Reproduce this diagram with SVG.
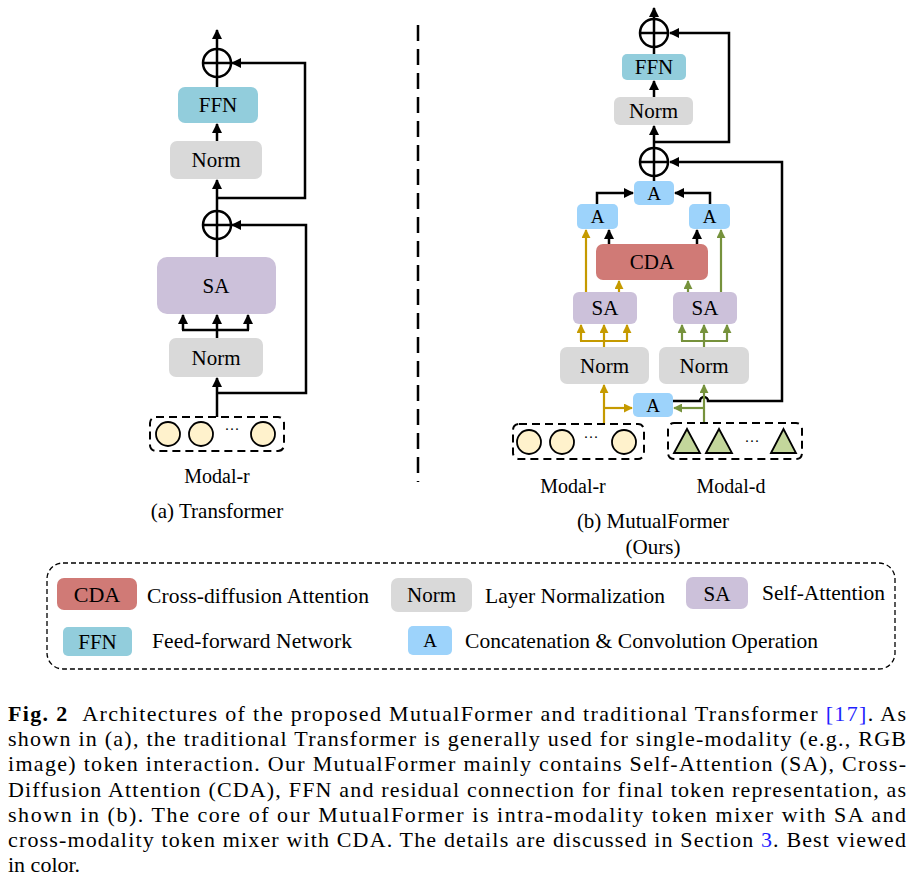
<svg xmlns="http://www.w3.org/2000/svg" width="915" height="880" viewBox="0 0 915 880">
<defs>
<marker id="ak" viewBox="0 0 10 10" refX="9" refY="5" markerWidth="10" markerHeight="10" markerUnits="userSpaceOnUse" orient="auto"><path d="M0,0 L10,5 L0,10 z" fill="#000"/></marker>
<marker id="ag" viewBox="0 0 10 10" refX="9" refY="5" markerWidth="9" markerHeight="9" markerUnits="userSpaceOnUse" orient="auto"><path d="M0,0 L10,5 L0,10 z" fill="#c59a00"/></marker>
<marker id="av" viewBox="0 0 10 10" refX="9" refY="5" markerWidth="9" markerHeight="9" markerUnits="userSpaceOnUse" orient="auto"><path d="M0,0 L10,5 L0,10 z" fill="#76923c"/></marker>
</defs>
<style>
text{font-family:"Liberation Serif","Times New Roman",serif;fill:#000}
.lbl{font-size:21px;text-anchor:middle}
.al{font-size:19px;text-anchor:middle}
.leg{font-size:21.5px}
.cap{font-size:22px}
.k{fill:none;stroke:#000;stroke-width:2.5}
.ka{fill:none;stroke:#000;stroke-width:2.5;marker-end:url(#ak)}
.g{fill:none;stroke:#c59a00;stroke-width:2.2}
.ga{fill:none;stroke:#c59a00;stroke-width:2.2;marker-end:url(#ag)}
.v{fill:none;stroke:#76923c;stroke-width:2.2}
.va{fill:none;stroke:#76923c;stroke-width:2.2;marker-end:url(#av)}
.ffn{fill:#92cddc}
.norm{fill:#d9d9d9}
.sa{fill:#ccc1da}
.cda{fill:#d07a76}
.a{fill:#9dd3fb}
.tok{fill:#fff2cc;stroke:#000;stroke-width:1.8}
.tri{fill:#c3d69b;stroke:#000;stroke-width:1.8;stroke-linejoin:miter}
.dash{fill:none;stroke:#000;stroke-width:2;stroke-dasharray:8 5}
.plus{fill:#fff;stroke:#000;stroke-width:2.5}
.dots{font-size:15px;text-anchor:middle}
</style>
<rect width="915" height="880" fill="#fff"/>

<!-- separator -->
<line x1="418" y1="25" x2="418" y2="482" stroke="#000" stroke-width="2.5" stroke-dasharray="16 8"/>

<g id="connectors">
  <!-- left (a) -->
  <path class="ka" d="M217,49 V30"/>
  <path class="k" d="M217,87 V77"/>
  <path class="ka" d="M217,198 H305 V63 H232"/>
  <path class="ka" d="M217,141 V124"/>
  <path class="ka" d="M217,211 V180"/>
  <path class="k" d="M217,257 V239"/>
  <path class="ka" d="M217,393 H306 V225 H232"/>
  <path class="k" d="M217,338 V330 M182,330 H249"/>
  <path class="ka" d="M183,330 V315"/>
  <path class="ka" d="M217,330 V315"/>
  <path class="ka" d="M248,330 V315"/>
  <path class="ka" d="M217,417 V378"/>
  <!-- right (b) black -->
  <path class="ka" d="M654,19 V8"/>
  <path class="k" d="M654,54 V47"/>
  <path class="ka" d="M654,97 V81"/>
  <path class="ka" d="M654,148 V126"/>
  <path class="ka" d="M654,142 H729 V33 H670"/>
  <path class="k" d="M654,181 V176"/>
  <path class="ka" d="M673,401 H700 A4,4 0 0 1 708,401 H782 V162 H670"/>
  <path class="ka" d="M597,204 V193 H633"/>
  <path class="ka" d="M710,204 V193 H675"/>
  <path class="ka" d="M609,244 V230"/>
  <path class="ka" d="M697,244 V230"/>
  <!-- gold -->
  <path class="ga" d="M586,292 V230"/>
  <path class="ga" d="M619,292 V281"/>
  <path class="g" d="M604,347 V341 M580,341 H628"/>
  <path class="ga" d="M581,341 V325"/>
  <path class="ga" d="M604,341 V325"/>
  <path class="ga" d="M627,341 V325"/>
  <path class="ga" d="M604,424 V385"/>
  <path class="ga" d="M604,408 H632"/>
  <!-- green -->
  <path class="va" d="M721,292 V230"/>
  <path class="va" d="M688,292 V281"/>
  <path class="v" d="M704,347 V341 M681,341 H728"/>
  <path class="va" d="M682,341 V325"/>
  <path class="va" d="M704,341 V325"/>
  <path class="va" d="M727,341 V325"/>
  <path class="va" d="M704,423 V385"/>
  <path class="va" d="M704,408 H674"/>
</g>

<!-- (a) Transformer nodes -->
<g id="a-add-top"><circle class="plus" cx="217" cy="63" r="14"/><path class="k" d="M203,63 H231 M217,49 V77"/></g>
<g id="a-ffn"><rect class="ffn" x="178" y="87" width="80" height="36" rx="7"/><text class="lbl" x="218" y="112">FFN</text></g>
<g id="a-norm1"><rect class="norm" x="170" y="141" width="92" height="38" rx="7"/><text class="lbl" x="216" y="167">Norm</text></g>
<g id="a-add-mid"><circle class="plus" cx="217" cy="225" r="14"/><path class="k" d="M203,225 H231 M217,211 V239"/></g>
<g id="a-sa"><rect class="sa" x="157" y="257" width="119" height="57" rx="10"/><text class="lbl" x="216" y="292.5">SA</text></g>
<g id="a-norm2"><rect class="norm" x="169" y="338" width="94" height="39" rx="7"/><text class="lbl" x="216" y="364.5">Norm</text></g>
<g id="a-modal-r">
  <rect class="dash" x="150" y="417" width="134" height="34" rx="6"/>
  <circle class="tok" cx="168" cy="434" r="12"/>
  <circle class="tok" cx="201" cy="434" r="12"/>
  <text class="dots" x="232" y="434">···</text>
  <circle class="tok" cx="263" cy="434" r="12"/>
  <text class="lbl" x="217" y="483" style="font-size:20px">Modal-r</text>
</g>
<text class="lbl" x="217" y="518">(a) Transformer</text>

<!-- (b) MutualFormer nodes -->
<g id="b-add-top"><circle class="plus" cx="654" cy="33" r="14"/><path class="k" d="M640,33 H668 M654,19 V47"/></g>
<g id="b-ffn"><rect class="ffn" x="622" y="54" width="64" height="26" rx="5"/><text class="lbl" x="654" y="74">FFN</text></g>
<g id="b-norm-top"><rect class="norm" x="614" y="97" width="79" height="28" rx="6"/><text class="lbl" x="653.5" y="118">Norm</text></g>
<g id="b-add-mid"><circle class="plus" cx="654" cy="162" r="14"/><path class="k" d="M640,162 H668 M654,148 V176"/></g>
<g id="b-a-top"><rect class="a" x="634" y="181" width="40" height="24" rx="5"/><text class="al" x="654" y="199.5">A</text></g>
<g id="b-a-left"><rect class="a" x="577" y="204" width="41" height="25" rx="5"/><text class="al" x="597.5" y="223">A</text></g>
<g id="b-a-right"><rect class="a" x="689" y="204" width="41" height="25" rx="5"/><text class="al" x="709.5" y="223">A</text></g>
<g id="b-cda"><rect class="cda" x="596" y="244" width="112" height="36" rx="7"/><text class="lbl" x="652" y="269">CDA</text></g>
<g id="b-sa-left"><rect class="sa" x="573" y="292" width="64" height="32" rx="6"/><text class="lbl" x="605" y="315">SA</text></g>
<g id="b-sa-right"><rect class="sa" x="673" y="292" width="64" height="32" rx="6"/><text class="lbl" x="705" y="315">SA</text></g>
<g id="b-norm-left"><rect class="norm" x="560" y="347" width="89" height="37" rx="7"/><text class="lbl" x="604.5" y="372.5">Norm</text></g>
<g id="b-norm-right"><rect class="norm" x="659" y="347" width="90" height="37" rx="7"/><text class="lbl" x="704" y="372.5">Norm</text></g>
<g id="b-a-bottom"><rect class="a" x="633" y="393" width="40" height="24" rx="5"/><text class="al" x="653" y="411.5">A</text></g>
<g id="b-modal-r">
  <rect class="dash" x="513" y="424" width="131" height="35" rx="6"/>
  <circle class="tok" cx="529" cy="442" r="12"/>
  <circle class="tok" cx="562" cy="442" r="12"/>
  <text class="dots" x="591" y="442">···</text>
  <circle class="tok" cx="624" cy="442" r="12"/>
  <text class="lbl" x="573" y="493" style="font-size:20px">Modal-r</text>
</g>
<g id="b-modal-d">
  <rect class="dash" x="668" y="423" width="134" height="36" rx="6"/>
  <polygon class="tri" points="674,453 687,429 700,453"/>
  <polygon class="tri" points="706,453 719,429 732,453"/>
  <text class="dots" x="752" y="446">···</text>
  <polygon class="tri" points="771,453 783.5,429 796,453"/>
  <text class="lbl" x="731" y="493" style="font-size:20px">Modal-d</text>
</g>
<text class="lbl" x="653" y="528">(b) MutualFormer</text>
<text class="lbl" x="653" y="554">(Ours)</text>

<!-- legend -->
<g id="legend">
  <rect x="47" y="563" width="848" height="106" rx="16" fill="none" stroke="#000" stroke-width="1.3" stroke-dasharray="5 3"/>
  <g id="leg-cda"><rect class="cda" x="57" y="578" width="80" height="32" rx="7"/><text class="lbl" x="97" y="601.5" style="font-size:22px">CDA</text>
    <text class="leg" x="147" y="603" textLength="222" lengthAdjust="spacing">Cross-diffusion Attention</text></g>
  <g id="leg-norm"><rect class="norm" x="391" y="578" width="81" height="34" rx="7"/><text class="lbl" x="431.5" y="602">Norm</text>
    <text class="leg" x="485" y="603" textLength="180" lengthAdjust="spacing">Layer Normalization</text></g>
  <g id="leg-sa"><rect class="sa" x="686" y="577" width="62" height="32" rx="7"/><text class="lbl" x="717" y="600.5">SA</text>
    <text class="leg" x="762" y="600" textLength="123" lengthAdjust="spacing">Self-Attention</text></g>
  <g id="leg-ffn"><rect class="ffn" x="63" y="627" width="69" height="29" rx="5"/><text class="lbl" x="97.5" y="648.5">FFN</text>
    <text class="leg" x="152" y="648" textLength="200" lengthAdjust="spacing">Feed-forward Network</text></g>
  <g id="leg-a"><rect class="a" x="408" y="626" width="44" height="29" rx="5"/><text class="al" x="430" y="647">A</text>
    <text class="leg" x="465" y="648" textLength="353" lengthAdjust="spacing">Concatenation &amp; Convolution Operation</text></g>
</g>

<!-- caption -->
<g id="caption">
  <text class="cap" x="8" y="721" textLength="898" lengthAdjust="spacing"><tspan font-weight="bold">Fig. 2</tspan>&#160;&#160;Architectures of the proposed MutualFormer and traditional Transformer <tspan fill="#1f1fff">[17]</tspan>. As</text>
  <text class="cap" x="8" y="746.2" textLength="898" lengthAdjust="spacing">shown in (a), the traditional Transformer is generally used for single-modality (e.g., RGB</text>
  <text class="cap" x="8" y="771.4" textLength="898" lengthAdjust="spacing">image) token interaction. Our MutualFormer mainly contains Self-Attention (SA), Cross-</text>
  <text class="cap" x="8" y="796.6" textLength="898" lengthAdjust="spacing">Diffusion Attention (CDA), FFN and residual connection for final token representation, as</text>
  <text class="cap" x="8" y="821.8" textLength="898" lengthAdjust="spacing">shown in (b). The core of our MutualFormer is intra-modality token mixer with SA and</text>
  <text class="cap" x="8" y="847" textLength="898" lengthAdjust="spacing">cross-modality token mixer with CDA. The details are discussed in Section <tspan fill="#1f1fff">3</tspan>. Best viewed</text>
  <text class="cap" x="8" y="872">in color.</text>
</g>
</svg>
